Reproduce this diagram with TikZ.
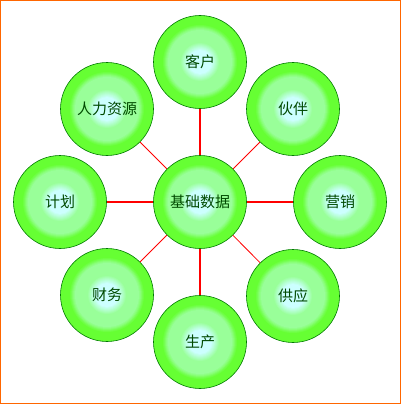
\documentclass[tikz,border=0pt]{standalone}
\usepackage{fontspec}
\newfontfamily\cjk{Noto Sans CJK SC}
\definecolor{ballcyan}{HTML}{CCFFFF}
\definecolor{ballmid}{HTML}{99FF99}
\definecolor{ballout}{HTML}{66FF33}
\definecolor{balledge}{HTML}{007A00}
\definecolor{balltext}{HTML}{004A00}
\definecolor{frameorange}{HTML}{FF6600}
\tikzset{
  ball/.style={circle, draw=balledge, line width=0.6pt, minimum size=93pt,
    inner sep=0pt, fill=ballout, text=balltext, font=\cjk\fontsize{15}{15}\selectfont,
    path picture={
      \foreach \r/\c in {37/ballmid!15!ballout, 36/ballmid!30!ballout, 35/ballmid!50!ballout,
          34/ballmid!70!ballout, 33/ballmid!85!ballout, 32/ballmid,
          19/ballcyan!12!ballmid, 18/ballcyan!25!ballmid, 17/ballcyan!38!ballmid,
          16/ballcyan!50!ballmid, 15/ballcyan!63!ballmid, 14/ballcyan!75!ballmid,
          13/ballcyan!88!ballmid, 12/ballcyan}
        \fill[\c] (path picture bounding box.center) circle (\r pt);
    }},
  thickline/.style={draw=red, line width=1.8pt},
  thinline/.style={draw=red, line width=0.8pt}
}
\begin{document}
\begin{tikzpicture}[x=1pt,y=-1pt]
\useasboundingbox (0,0) rectangle (401,404);
\draw[frameorange, line width=1.4pt] (0.7,0.7) rectangle (400.3,403.3);
\coordinate (cpos) at (200,202);
\node[ball] (c) at (cpos) {基础数据};
\node[ball] (n) at (200,62) {客户};
\node[ball] (s) at (200,342) {生产};
\node[ball] (w) at (60,202) {计划};
\node[ball] (e) at (340,202) {营销};
\node[ball] (nw) at (107,109) {人力资源};
\node[ball] (ne) at (293,109) {伙伴};
\node[ball] (sw) at (107,295) {财务};
\node[ball] (se) at (293,296) {供应};
\draw[thickline] (c) -- (n);
\draw[thickline] (c) -- (s);
\draw[thickline] (c) -- (w);
\draw[thickline] (c) -- (e);
\draw[thinline] (c) -- (nw);
\draw[thinline] (c) -- (ne);
\draw[thinline] (c) -- (sw);
\draw[thinline] (c) -- (se);
\end{tikzpicture}
\end{document}
